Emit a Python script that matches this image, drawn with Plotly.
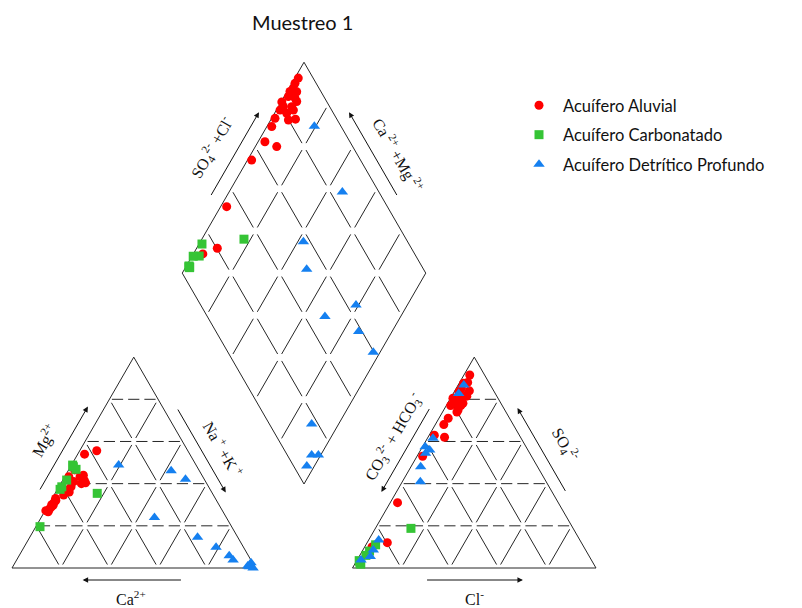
import math
import plotly.graph_objects as go

# ---------------------------------------------------------------
# Hydrochemical composition of the samples (% meq/L)
# Cations: Mg2+, Na+ + K+  (Ca2+ is the remainder)
# Anions : SO4 2-, Cl-     (CO3 2- + HCO3- is the remainder)
# ---------------------------------------------------------------
aluvial_mg = [28.0, 30.0, 31.4, 27.0, 37.0, 29.0, 41.0, 27.2, 43.3, 32.0, 36.0, 26.7,
              38.5, 55.6, 33.0, 40.4, 44.0, 29.9, 54.0, 41.7, 43.3, 46.5, 34.6, 40.0]
aluvial_nak = [1.4, 1.3, 1.8, 1.2, 4.0, 1.7, 4.8, 0.3, 6.3, 2.0, 5.5, 1.5,
               5.0, 7.0, 1.4, 10.0, 7.3, 2.0, 2.8, 8.8, 1.7, 2.5, 3.9, 8.5]
aluvial_so4 = [91.5, 88.0, 87.6, 85.2, 84.0, 83.5, 82.0, 80.5, 81.5, 78.1, 78.1, 77.0,
               74.9, 80.0, 71.0, 77.0, 74.0, 68.0, 63.0, 62.0, 53.0, 31.0, 10.0, 12.0]
aluvial_cl = [2.4, 3.3, 1.8, 2.1, 6.0, 1.9, 5.8, 1.0, 6.2, 2.9, 6.3, 1.8,
              5.9, 4.3, 3.8, 6.0, 5.9, 3.5, 2.1, 6.8, 2.3, 3.0, 3.0, 8.3]

carbonatado_mg = [35.4, 48.0, 46.8, 48.8, 41.7, 38.5, 37.3, 19.6]
carbonatado_nak = [17.3, 1.2, 2.9, 0.5, 1.6, 1.2, 1.1, 1.7]
carbonatado_so4 = [18.8, 11.0, 8.0, 6.0, 3.0, 2.2, 3.5, 1.8]
carbonatado_cl = [14.6, 4.0, 3.0, 2.5, 1.5, 2.0, 1.0, 2.5]

profundo_mg = [48.8, 24.0, 46.1, 42.1, 9.8, 14.6, 5.8, 0.6, 3.8, 1.0, 0.0, 2.5]
profundo_nak = [19.4, 46.5, 42.3, 50.2, 78.9, 68.9, 86.3, 97.2, 88.9, 96.3, 99.0, 96.9]
profundo_so4 = [86.8, 82.8, 54.4, 48.0, 61.5, 40.9, 57.5, 56.0, 13.3, 5.4, 8.5, 3.8]
profundo_cl = [2.3, 2.2, 2.8, 4.0, 2.3, 7.4, 1.1, 3.7, 4.1, 4.6, 4.3, 1.6]

series_names = ["Acuífero Aluvial", "Acuífero Carbonatado", "Acuífero Detrítico Profundo"]
series_colors = ["#FF0000", "#35C435", "#1580F0"]
series_symbols = ["circle", "square", "triangle-up"]

# ---------------------------------------------------------------
# Piper diagram geometry (plot units = screen pixels)
# ---------------------------------------------------------------
W, HT = 802, 608
S = 243.5                      # side of triangles / diamond
H = S * math.sqrt(3) / 2
X0, YB = 12.0, 568.0           # left triangle: bottom-left corner, base line
GAP = 97.0
X1 = X0 + S + GAP              # right triangle bottom-left corner
DX = X0 + S + GAP / 2          # diamond bottom vertex
DY = YB - (GAP / 2) * math.sqrt(3)


def cation_xy(mg, nak):
    return X0 + S * (nak + mg / 2) / 100, YB - H * mg / 100


def anion_xy(so4, cl):
    return X1 + S * (cl + so4 / 2) / 100, YB - H * so4 / 100


def diamond_xy(nak, so4, cl):
    a = so4 + cl          # SO4 + Cl
    c = 100 - nak         # Ca + Mg
    return DX + (S / 2) * (a - c) / 100, DY - H * (a + c) / 100


fig = go.Figure()

# ---------------- frame and grid ----------------
shapes = []
seg = S / 5
gap_half = 4.0
node_dash = f"0px,{gap_half}px,{seg - 2 * gap_half:.2f}px,{gap_half}px"
third = seg / 3
hdash = f"0px,2.5px,{third - 5:.2f}px,5px,{third - 5:.2f}px,5px,{third - 5:.2f}px,2.5px"
LINE = "#262626"


def add_line(p, q, dash="solid", width=1.0):
    shapes.append(dict(type="line", xref="x", yref="y", x0=p[0], y0=p[1], x1=q[0], y1=q[1],
                       line=dict(color=LINE, width=width, dash=dash), layer="below"))


def triangle(x0):
    bl, br, ap = (x0, YB), (x0 + S, YB), (x0 + S / 2, YB - H)
    for p, q in [(bl, br), (br, ap), (ap, bl)]:
        add_line(p, q)
    for k in range(1, 5):
        f = k / 5
        # parallel to base
        add_line((x0 + f * S / 2, YB - f * H), (x0 + S - f * S / 2, YB - f * H), hdash)
        # parallel to left side
        add_line((x0 + f * S, YB), (x0 + f * S + (1 - f) * S / 2, YB - (1 - f) * H), node_dash)
        # parallel to right side
        add_line((x0 + f * S, YB), (x0 + f * S / 2, YB - f * H), node_dash)


triangle(X0)
triangle(X1)


def dpt(a, c):
    return DX + (S / 2) * (a - c), DY - H * (a + c)


d_bot, d_right, d_top, d_left = dpt(0, 0), dpt(1, 0), dpt(1, 1), dpt(0, 1)
for p, q in [(d_bot, d_right), (d_right, d_top), (d_top, d_left), (d_left, d_bot)]:
    add_line(p, q)
for k in range(1, 5):
    f = k / 5
    add_line(dpt(f, 0), dpt(f, 1), node_dash)
    add_line(dpt(0, f), dpt(1, f), node_dash)

# ---------------- samples ----------------
groups = [
    (aluvial_mg, aluvial_nak, aluvial_so4, aluvial_cl),
    (carbonatado_mg, carbonatado_nak, carbonatado_so4, carbonatado_cl),
    (profundo_mg, profundo_nak, profundo_so4, profundo_cl),
]
for i, (mg, nak, so4, cl) in enumerate(groups):
    xs, ys = [], []
    for m, n, s4, c in zip(mg, nak, so4, cl):
        for x, y in (cation_xy(m, n), anion_xy(s4, c), diamond_xy(n, s4, c)):
            xs.append(x)
            ys.append(y)
    size = 9 if series_symbols[i] != "triangle-up" else 10
    fig.add_trace(go.Scatter(
        x=xs, y=ys, mode="markers", name=series_names[i], legendgroup=f"g{i}",
        marker=dict(color=series_colors[i], symbol=series_symbols[i], size=size,
                    line=dict(width=0)),
        hoverinfo="skip"))

# ---------------- axis arrows and labels ----------------
ann = []


def along(p, q, t, off):
    """Point at fraction t from p to q, shifted `off` px to the right of p->q (screen)."""
    x = p[0] + (q[0] - p[0]) * t
    y = p[1] + (q[1] - p[1]) * t
    L = math.hypot(q[0] - p[0], q[1] - p[1])
    nx, ny = -(q[1] - p[1]) / L, (q[0] - p[0]) / L
    return x + nx * off, y + ny * off


def arrow(tail, head):
    ann.append(dict(x=head[0], y=head[1], ax=tail[0], ay=tail[1], xref="x", yref="y",
                    axref="x", ayref="y", text="", showarrow=True, arrowhead=2,
                    arrowsize=1.1, arrowwidth=1, arrowcolor="#111"))


LABEL_FONT = dict(family="Liberation Serif, Times New Roman, serif", size=16, color="#111")


def label(pos, text, angle):
    ann.append(dict(x=pos[0], y=pos[1], xref="x", yref="y", text=text, showarrow=False,
                    textangle=angle, font=LABEL_FONT, xanchor="center", yanchor="middle"))


# left triangle (cations)
lb, lr, la = (X0, YB), (X0 + S, YB), (X0 + S / 2, YB - H)
arrow(along(la, lb, 0.67, 15), along(la, lb, 0.27, 15))           # Mg up
label(along(la, lb, 0.48, 36), "Mg<sup>2+</sup>", -60)
arrow(along(la, lr, 0.27, -12), along(la, lr, 0.67, -12))         # Na+K down
label(along(la, lr, 0.51, -32), "Na<sup> +</sup> +K<sup> +</sup>", 60)
arrow((X0 + 0.70 * S, YB + 12), (X0 + 0.29 * S, YB + 12))           # Ca left
label((X0 + 0.49 * S, YB + 30), "Ca<sup>2+</sup>", 0)

# right triangle (anions)
rb, rr, ra = (X1, YB), (X1 + S, YB), (X1 + S / 2, YB - H)
arrow(along(ra, rb, 0.27, 13), along(ra, rb, 0.67, 13))           # CO3+HCO3 down
label(along(ra, rb, 0.45, 31), "CO<sub>3</sub><sup>2-</sup> + HCO<sub>3</sub><sup>-</sup>", -60)
arrow(along(ra, rr, 0.67, -12), along(ra, rr, 0.27, -12))         # SO4 up
label(along(ra, rr, 0.50, -35), "SO<sub>4</sub><sup>2-</sup>", 60)
arrow((X1 + 0.30 * S, YB + 12), (X1 + 0.70 * S, YB + 12))           # Cl right
label((X1 + 0.50 * S, YB + 30), "Cl<sup>-</sup>", 0)

# diamond
arrow(along(d_top, d_left, 0.67, 14), along(d_top, d_left, 0.27, 14))
label(along(d_top, d_left, 0.49, 37), "SO<sub>4</sub><sup>2-</sup> +Cl<sup>-</sup>", -60)
arrow(along(d_top, d_right, 0.67, -14), along(d_top, d_right, 0.27, -14))
label(along(d_top, d_right, 0.52, -35), "Ca<sup> 2+</sup> +Mg<sup> 2+</sup>", 60)

# title
ann.append(dict(x=302, y=22, xref="x", yref="y", text="Muestreo 1", showarrow=False,
                font=dict(family="Lato, Open Sans, sans-serif", size=20, color="#111"),
                xanchor="center", yanchor="middle"))

fig.update_layout(
    width=W, height=HT,
    margin=dict(l=0, r=0, t=0, b=0),
    paper_bgcolor="white", plot_bgcolor="white",
    shapes=shapes, annotations=ann,
    xaxis=dict(range=[0, W], visible=False, fixedrange=True),
    yaxis=dict(range=[HT, 0], visible=False, fixedrange=True),
    showlegend=True,
    legend=dict(x=515 / W, y=1 - 88 / HT, xanchor="left", yanchor="top", itemwidth=38,
                font=dict(family="Lato, Open Sans, sans-serif", size=16.5, color="#111"),
                bgcolor="rgba(0,0,0,0)", tracegroupgap=5, traceorder="grouped"),
)

fig.write_html("out.html")
